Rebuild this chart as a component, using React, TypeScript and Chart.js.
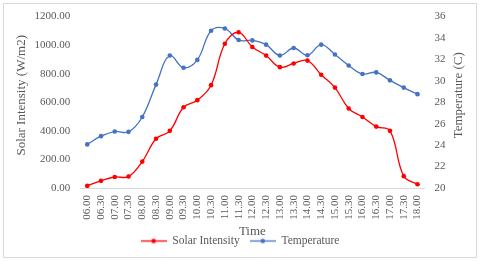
import React, { useEffect, useRef } from "react";
import { Chart, registerables } from "chart.js";
Chart.register(...registerables);

const times = [
  "06.00", "06.30", "07.00", "07.30", "08.00", "08.30", "09.00", "09.30",
  "10.00", "10.30", "11.00", "11.30", "12.00", "12.30", "13.00", "13.30",
  "14.00", "14.30", "15.00", "15.30", "16.00", "16.30", "17.00", "17.30", "18.00",
];
const solarIntensity = [
  15, 50, 77, 80, 185, 345, 400, 565, 615, 720, 1010, 1090, 987, 927, 846, 872,
  892, 793, 703, 557, 497, 430, 400, 83, 26,
];
const temperature = [
  24.07, 24.84, 25.27, 25.24, 26.63, 29.65, 32.37, 31.22, 31.96, 34.68, 34.89,
  33.81, 33.78, 33.38, 32.37, 33.07, 32.39, 33.38, 32.46, 31.44, 30.64, 30.79,
  30.05, 29.37, 28.76,
];
const solarAxis = { min: 0, max: 1200, step: 200 };
const tempAxis = { min: 20, max: 36, step: 2 };
const leftTitle = "Solar Intensity (W/m2)";
const rightTitle = "Temperature (C)";
const xTitle = "Time";

const FONT = "'Liberation Serif', 'Times New Roman', serif";
const GREY = "#595959";
const RED = "#FF0000";
const BLUE = "#4472C4";

function legendIcon(color: string) {
  const c = document.createElement("canvas");
  c.width = 26;
  c.height = 7;
  const g = c.getContext("2d")!;
  g.strokeStyle = color;
  g.lineWidth = 1.3;
  g.beginPath();
  g.moveTo(0, 3.5);
  g.lineTo(26, 3.5);
  g.stroke();
  g.fillStyle = color;
  g.beginPath();
  g.arc(13, 3.5, 2.3, 0, Math.PI * 2);
  g.fill();
  return c;
}

const titlePlugin = {
  id: "sideTitles",
  afterDraw(chart: any) {
    const ctx = chart.ctx;
    const area = chart.chartArea;
    const cy = (area.top + area.bottom) / 2 - 7;
    ctx.save();
    ctx.fillStyle = GREY;
    ctx.font = `13px ${FONT}`;
    ctx.textAlign = "center";
    ctx.textBaseline = "middle";
    const ys = chart.scales.y;
    const yr = chart.scales.y1;
    ctx.save();
    ctx.translate(ys.left + 4 + 7.8, cy);
    ctx.rotate(-Math.PI / 2);
    ctx.fillText(leftTitle, 0, 0);
    ctx.restore();
    ctx.save();
    ctx.translate(yr.right - 4 - 7.8, cy);
    ctx.rotate(-Math.PI / 2);
    ctx.fillText(rightTitle, 0, 0);
    ctx.restore();
    ctx.restore();
  },
};

export default function App() {
  const ref = useRef<HTMLCanvasElement>(null);
  useEffect(() => {
    const icons = [legendIcon(RED), legendIcon(BLUE)];
    const chart = new Chart(ref.current!, {
      type: "line",
      data: {
        labels: times,
        datasets: [
          {
            label: "Solar Intensity",
            data: solarIntensity,
            borderColor: RED,
            backgroundColor: RED,
            borderWidth: 1.3,
            pointRadius: 2.3,
            pointBorderWidth: 0,
            tension: 0.4,
            yAxisID: "y",
          },
          {
            label: "Temperature",
            data: temperature,
            borderColor: BLUE,
            backgroundColor: BLUE,
            borderWidth: 1.3,
            pointRadius: 2.3,
            pointBorderWidth: 0,
            tension: 0.4,
            yAxisID: "y1",
          },
        ],
      },
      options: {
        animation: false,
        responsive: false,
        maintainAspectRatio: false,
        layout: { padding: { left: 10, right: 10, top: 6.4, bottom: 4.25 } },
        plugins: {
          tooltip: { enabled: false },
          legend: {
            position: "bottom",
            labels: {
              usePointStyle: true,
              pointStyleWidth: 26,
              boxHeight: 7,
              padding: 10,
              color: GREY,
              font: { family: FONT, size: 11.5 },
              generateLabels: (chart: any) => {
                const items = Chart.defaults.plugins.legend.labels.generateLabels(chart);
                items.forEach((it: any, i: number) => {
                  it.pointStyle = icons[i];
                });
                return items;
              },
            },
          },
        },
        scales: {
          x: {
            offset: true,
            grid: { display: false, drawTicks: false },
            border: { display: true, color: "#D9D9D9" },
            ticks: {
              minRotation: 90,
              maxRotation: 90,
              autoSkip: false,
              padding: 7,
              color: GREY,
              font: { family: FONT, size: 11 },
            },
            title: {
              display: true,
              text: xTitle,
              color: GREY,
              font: { family: FONT, size: 13 },
              padding: { top: -2.55, bottom: -14.55 },
            },
          },
          y: {
            position: "left",
            min: solarAxis.min,
            max: solarAxis.max,
            grid: { display: false, drawTicks: false },
            border: { display: false },
            ticks: {
              stepSize: solarAxis.step,
              padding: 10,
              color: GREY,
              font: { family: FONT, size: 11 },
              callback: (v: any) => Number(v).toFixed(2),
            },
            title: {
              display: true,
              text: leftTitle,
              color: "rgba(0,0,0,0)",
              font: { family: FONT, size: 13 },
              padding: { top: 4, bottom: -5 },
            },
          },
          y1: {
            position: "right",
            min: tempAxis.min,
            max: tempAxis.max,
            grid: { display: false, drawTicks: false },
            border: { display: false },
            ticks: {
              stepSize: tempAxis.step,
              padding: 10,
              color: GREY,
              font: { family: FONT, size: 11 },
            },
            title: {
              display: true,
              text: rightTitle,
              color: "rgba(0,0,0,0)",
              font: { family: FONT, size: 13 },
              padding: { top: 4, bottom: -5 },
            },
          },
        },
      },
      plugins: [titlePlugin],
    });
    return () => chart.destroy();
  }, []);
  return (
    <div style={{ position: "absolute", left: 0, top: 0, width: 480, height: 261, background: "#fff" }}>
      <div
        style={{
          position: "absolute",
          left: 3,
          top: 3,
          width: 472,
          height: 253,
          border: "1px solid #D9D9D9",
          boxSizing: "content-box",
        }}
      />
      <canvas ref={ref} width={480} height={261} style={{ position: "absolute", left: 0, top: 0 }} />
    </div>
  );
}
